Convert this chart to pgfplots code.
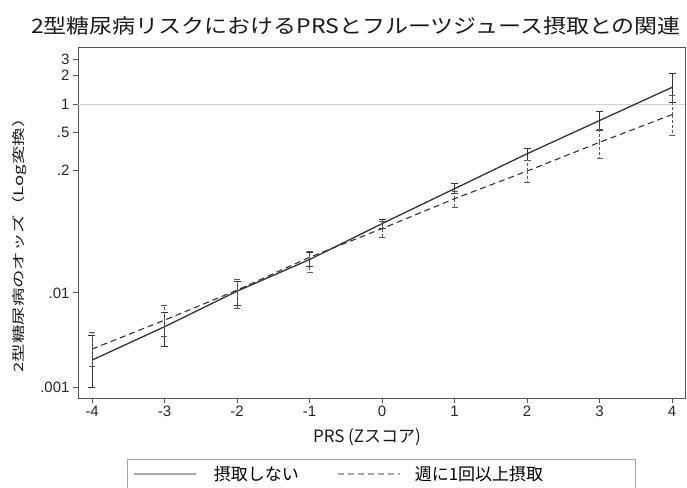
\documentclass[border=0pt]{standalone}
\usepackage{pgfplots}
\pgfplotsset{compat=1.18}
\usepackage{pgfplotstable}
\usepackage{fontspec}
\setmainfont{Liberation Sans}
\newfontfamily\cjk{Noto Sans CJK JP}
\definecolor{lineC}{HTML}{333333}
\definecolor{frameC}{HTML}{555555}

% x  odds  plus  minus
\pgfplotstableread{
x y ep em
-4 0.00194 0.00163 0.000956
-3 0.00438 0.00187 0.00169
-2 0.01042 0.00288 0.00301
-1 0.02254 0.00436 0.00340
0 0.0542 0.0055 0.0059
1 0.127 0.016 0.014
2 0.298 0.038 0.045
3 0.670 0.169 0.145
4 1.506 0.584 0.461
}\solidtab

\pgfplotstableread{
x y ep em
-4 0.00254 0.00131 0.00086
-3 0.00514 0.00227 0.00166
-2 0.01069 0.00327 0.00380
-1 0.02382 0.00378 0.00715
0 0.0480 0.0093 0.0089
1 0.0995 0.0195 0.0184
2 0.195 0.058 0.046
3 0.394 0.143 0.130
4 0.774 0.456 0.309
}\dashtab

\begin{document}
\begin{tikzpicture}
\path[use as bounding box] (-78pt,-89pt) rectangle (609pt,398pt);
\begin{axis}[
  at={(0pt,0pt)}, anchor=south west,
  scale only axis, width=607pt, height=351pt,
  ymode=log,
  xmin=-4.193, xmax=4.179, ymin=0.00077, ymax=4.03,
  axis line style={frameC, line width=0.9pt},
  tick style={frameC, line width=0.8pt},
  major tick length=5pt,
  tick align=outside,
  xtick pos=bottom, ytick pos=left,
  xtick={-4,-3,-2,-1,0,1,2,3,4},
  xticklabels={-4,-3,-2,-1,0,1,2,3,4},
  ytick={0.001,0.01,0.2,0.5,1,2,3},
  yticklabels={.001,.01,.2,.5,1,2,3},
  minor ytick={},
  log basis y=10,
  ticklabel style={font=\fontsize{15}{17}\selectfont, text=black!85},
  legend style={at={(0.5,-0.1738)}, anchor=north, draw=gray!70, line width=0.8pt,
    font=\cjk\fontsize{17}{20}\selectfont, inner sep=5pt},
  legend columns=2,
  legend cell align=left,
  legend image code/.code={\draw[#1] (0pt,0pt) -- (62pt,0pt);},
]
\addplot[gray!35, line width=0.6pt, forget plot] coordinates {(-4.193,1) (4.179,1)};

\addplot[lineC, line width=1.3pt, forget plot,
  error bars/.cd, y dir=both, y explicit,
  error bar style={line width=0.7pt, solid},
  error mark options={rotate=90, line width=0.9pt, mark size=3.5pt}]
  table[x=x, y=y, y error plus=ep, y error minus=em] {\solidtab};

\addplot[lineC, line width=1.1pt, dash pattern=on 6pt off 4pt, forget plot,
  error bars/.cd, y dir=both, y explicit,
  error bar style={line width=0.6pt, dash pattern=on 3pt off 2pt, black!65},
  error mark options={rotate=90, line width=0.7pt, mark size=3pt, solid, black!65}]
  table[x=x, y=y, y error plus=ep, y error minus=em] {\dashtab};

\addlegendimage{gray!70, line width=2pt}
\addlegendentry{\kern15pt 摂取しない\kern36pt\mbox{}}
\addlegendimage{gray!70, line width=2pt, dash pattern=on 6pt off 4pt}
\addlegendentry{\kern12pt 週に1回以上摂取\kern85pt\mbox{}}
\end{axis}
\node[text=black!90] at (278pt,372pt) {\scalebox{1.15}[1]{\cjk\fontsize{20}{24}\selectfont 2型糖尿病リスクにおけるPRSとフルーツジュース摂取との関連}};
\node[rotate=90, text=black!90] at (-58pt,157pt) {\scalebox{1.42}[1]{\cjk\fontsize{13}{15}\selectfont 2型糖尿病のオッズ（Log変換）}};
\node[text=black!90] at (289pt,-39pt) {\cjk\fontsize{17}{20}\selectfont PRS (Zスコア)};
\end{tikzpicture}
\end{document}
